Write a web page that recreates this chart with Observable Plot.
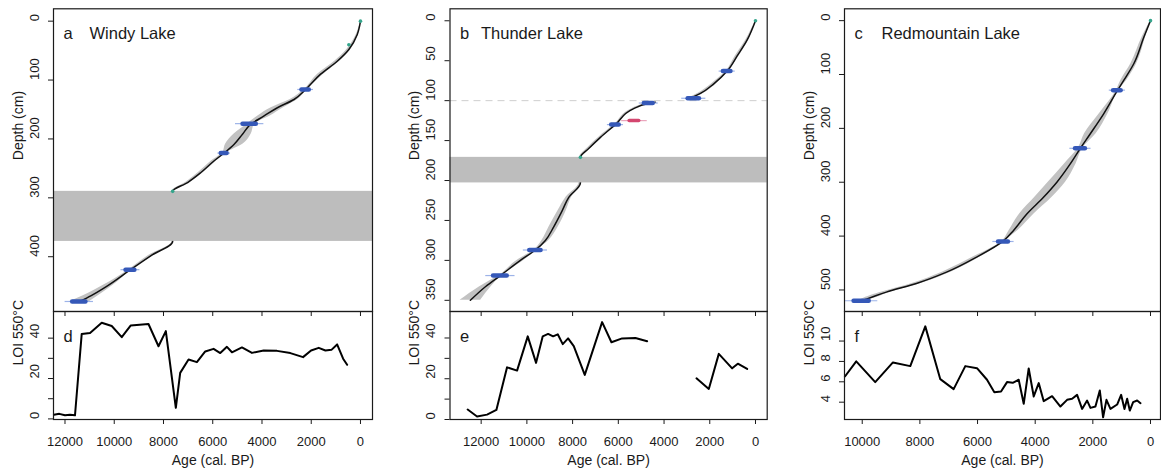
<!DOCTYPE html>
<html><head><meta charset="utf-8">
<script src="https://cdn.jsdelivr.net/npm/d3@7"></script>
<script src="https://cdn.jsdelivr.net/npm/@observablehq/plot@0.6"></script>
<style>
html,body{margin:0;padding:0;background:#fff;}
#chart{position:relative;width:1161px;height:474px;overflow:hidden;background:#fff;font-family:"Liberation Sans",Arial,sans-serif;}
#chart svg{position:absolute;background:transparent !important;overflow:visible;}
</style></head><body><div id="chart"></div>
<script>
// ---------------- data ----------------
const ageTicks = [12000, 10000, 8000, 6000, 4000, 2000, 0];
const redAgeTicks = [10000, 8000, 6000, 4000, 2000, 0];

// Windy Lake age-depth model
const windyDepth = [0, 23, 48, 68, 90, 116, 133, 147, 161, 175, 192, 209, 223, 237, 257, 274, 289, 374, 398, 422, 449, 466, 476];
const windyAge = [0, 134, 472, 945, 1620, 2228, 2700, 3375, 3915, 4455, 4792, 5130, 5508, 5940, 6480, 7020, 7628, 7628, 8505, 9342, 10260, 10935, 11400];
const windyHalfWidth = [0, 40, 80, 100, 120, 60, 150, 250, 250, 150, 350, 350, 80, 100, 100, 80, 30, 30, 100, 60, 200, 300, 400];
const windyDateDepth = [116, 174, 224, 422, 476];
const windyDateAge = [2228, 4500, 5535, 9342, 11420];
const windyDateSd = [200, 360, 160, 240, 360];
const windyMarkDepth = [0, 40, 289];
const windyMarkAge = [0, 472, 7628];
const windyEventTop = [289];
const windyEventBottom = [374];
const windyDepthTicks = [0, 100, 200, 300, 400];
// Windy Lake LOI
const windyLoiAge = [12450, 12230, 12000, 11797, 11594, 11322, 10983, 10509, 10102, 9695, 9329, 8610, 8203, 7905, 7499, 7322, 6983, 6644, 6305, 5966, 5695, 5424, 5220, 4814, 4407, 3932, 3390, 2848, 2332, 2007, 1695, 1424, 1180, 949, 705, 542];
const windyLoi = [2, 2.5, 1.8, 2.1, 1.8, 42, 42.6, 47.6, 46, 40.5, 46.3, 47, 36, 43.5, 5.5, 22.8, 29.4, 28.1, 33.4, 34.7, 32.6, 35.7, 33, 35.4, 32.7, 33.9, 33.7, 32.6, 30.6, 33.9, 35.2, 33.9, 34.2, 36.9, 29.8, 26.8];

// Thunder Lake age-depth model (two segments separated by a hiatus at 100 cm)
const thunderUpperDepth = [0, 24, 44, 63, 79, 91, 98];
const thunderUpperAge = [0, 363, 801, 1239, 1825, 2407, 2918];
const thunderUpperHalfWidth = [0, 60, 80, 50, 100, 120, 100];
const thunderLowerDepth = [102, 104, 110, 130, 146, 160, 171, 187, 203, 221, 238, 258, 275, 287, 300, 319, 333, 350];
const thunderLowerAge = [4376, 4739, 5325, 6126, 6783, 7295, 7660, 7660, 7660, 8168, 8459, 8826, 9190, 9627, 10284, 11159, 11815, 12472];
const thunderLowerHalfWidth = [40, 60, 80, 50, 80, 80, 30, 30, 60, 120, 180, 200, 150, 60, 150, 60, 250, 450];
const thunderDateDepth = [63, 97, 103, 130, 287, 319];
const thunderDateAge = [1239, 2699, 4669, 6126, 9627, 11159];
const thunderDateSd = [220, 330, 260, 220, 330, 400];
const thunderOutlierDepth = [125];
const thunderOutlierAge = [5295];
const thunderOutlierSd = [350];
const thunderMarkDepth = [0, 171];
const thunderMarkAge = [0, 7658];
const thunderEventTop = [171];
const thunderEventBottom = [203];
const thunderHiatus = [100];
const thunderDepthTicks = [0, 50, 100, 150, 200, 250, 300, 350];
// Thunder Lake LOI (gap between segments)
const thunderLoiAge1 = [12590, 12180, 11742, 11334, 10867, 10429, 9962, 9598, 9306, 9072, 8854, 8650, 8431, 8197, 7949, 7468, 6709, 6301, 5834, 5251, 4740];
const thunderLoi1 = [4.9, 1.5, 2.4, 4.7, 25.6, 24, 40.8, 27.8, 40.8, 42, 40.8, 41.8, 37, 39.8, 36, 21.9, 47.8, 37.9, 39.8, 40, 38.4];
const thunderLoiAge2 = [2582, 2042, 1605, 1021, 773, 364];
const thunderLoi2 = [20.2, 15, 32.2, 25.1, 27.4, 24.8];

// Redmountain Lake age-depth model
const redDepth = [0, 31, 80, 111, 130, 173, 210, 236, 266, 300, 328, 359, 390, 409, 439, 467, 488, 504, 517, 520];
const redAge = [0, 232, 580, 928, 1150, 1625, 2088, 2420, 2784, 3248, 3712, 4291, 4757, 5100, 6031, 7075, 8119, 9163, 9859, 10033];
const redHalfWidth = [0, 60, 100, 100, 40, 150, 200, 80, 200, 300, 300, 250, 150, 40, 120, 150, 150, 150, 150, 60];
const redDateDepth = [129, 237, 410, 520];
const redDateAge = [1150, 2430, 5100, 10020];
const redDateSd = [175, 230, 230, 350];
const redMarkDepth = [0];
const redMarkAge = [0];
const redDepthTicks = [0, 100, 200, 300, 400, 500];
// Redmountain Lake LOI
const redLoiAge = [10600, 10208, 9549, 8935, 8333, 7812, 7292, 6829, 6424, 6019, 5671, 5417, 5185, 4977, 4780, 4572, 4398, 4225, 4051, 3877, 3704, 3414, 3125, 2894, 2720, 2546, 2373, 2199, 2083, 1910, 1759, 1644, 1528, 1389, 1157, 1019, 903, 810, 718, 602, 463, 347];
const redLoi = [6.52, 8.0, 5.97, 7.9, 7.54, 11.44, 6.26, 5.28, 7.54, 7.34, 6.2, 4.98, 5.05, 5.97, 5.9, 6.2, 3.84, 7.31, 4.56, 5.87, 4.1, 4.59, 3.57, 4.23, 4.33, 4.72, 3.34, 4.16, 3.44, 3.57, 5.15, 2.52, 4.23, 3.34, 3.77, 4.72, 3.34, 4.33, 3.18, 4.0, 4.16, 3.9];

const loiTicks40 = [0, 10, 20, 30, 40];
const loiLabels40 = [0, 20, 40];
const loiTicksRed = [4, 6, 8, 10];

// ---------------- helpers ----------------
const FONT = '"Liberation Sans", Arial, sans-serif';
const INK = "#1a1a1a";
const chart = document.getElementById("chart");

function curveRows(depths, ages, hw, seg) {
  return depths.map((d, i) => ({depth: d, age: ages[i], lo: ages[i] - hw[i], hi: ages[i] + hw[i], seg}));
}
function dateRows(depths, ages, sds) {
  return depths.map((d, i) => ({depth: d, age: ages[i], sd: sds[i]}));
}
function pointRows(xs, ys, seg) {
  return xs.map((x, i) => ({x, y: ys[i], seg}));
}
function place(svg, left, top) {
  svg.style.left = left + "px";
  svg.style.top = top + "px";
  chart.appendChild(svg);
}
const baseStyle = {background: "transparent", fontFamily: FONT, color: INK, overflow: "visible"};

function topPanel(o) {
  const marks = [
    Plot.areaX(o.curve, {y: "depth", x1: "lo", x2: "hi", z: "seg", fill: "#c2c2c2", curve: "monotone-y"}),
    Plot.line(o.curve, {x: "age", y: "depth", z: "seg", stroke: "#111", strokeWidth: 1.5, curve: "monotone-y"}),
  ];
  if (o.hiatus) marks.push(Plot.ruleY(o.hiatus, {y: d => d, stroke: "#cfcfcf", strokeWidth: 1, strokeDasharray: "7,5"}));
  if (o.bands) marks.push(Plot.rect(o.bands, {y1: "top", y2: "bottom", fill: "#bdbdbd"}));
  marks.push(
    Plot.ruleY(o.dates, {y: "depth", x1: d => d.age - 1.6 * d.sd, x2: d => d.age + 1.6 * d.sd, stroke: "#9db3e8", strokeWidth: 1.2}),
    Plot.ruleY(o.dates, {y: "depth", x1: d => d.age - 0.75 * d.sd, x2: d => d.age + 0.75 * d.sd, stroke: "#3558b8", strokeWidth: 4.5, strokeLinecap: "round"})
  );
  if (o.outliers) marks.push(
    Plot.ruleY(o.outliers, {y: "depth", x1: d => d.age - 1.6 * d.sd, x2: d => d.age + 1.6 * d.sd, stroke: "#eaa6bd", strokeWidth: 1.2}),
    Plot.ruleY(o.outliers, {y: "depth", x1: d => d.age - 0.6 * d.sd, x2: d => d.age + 0.6 * d.sd, stroke: "#d4466f", strokeWidth: 3.5, strokeLinecap: "round"})
  );
  marks.push(
    Plot.dot(o.marks, {x: "age", y: "depth", r: 1.8, fill: "#35a58c"}),
    Plot.frame({stroke: INK, strokeWidth: 1.2}),
    Plot.axisX({ticks: o.xTicks, anchor: "bottom", tickSize: 5, fill: "none", stroke: INK, label: null}),
    Plot.axisY({ticks: o.yTicks, anchor: "left", tickSize: 5, fill: "none", stroke: INK, label: null}),
    Plot.text(o.yTicks, {y: d => d, text: d => String(d), frameAnchor: "left", dx: -19, rotate: -90, fontSize: 13, fill: INK}),
    Plot.text(["Depth (cm)"], {frameAnchor: "left", dx: -35, rotate: -90, fontSize: 14, fill: INK}),
    Plot.text([o.letter], {frameAnchor: "top-left", dx: 10, dy: 18.5, textAnchor: "start", fontSize: 16.5, fill: INK}),
    Plot.text([o.name], {frameAnchor: "top-left", dx: o.nameDx, dy: 18.5, textAnchor: "start", fontSize: 16.5, fill: INK})
  );
  const svg = Plot.plot({
    width: o.width, height: 318,
    marginLeft: o.ml, marginRight: o.mr, marginTop: 8.3, marginBottom: 7,
    x: {domain: o.xDomain, axis: null},
    y: {domain: o.yDomain, reverse: true, axis: null},
    style: baseStyle,
    marks
  });
  place(svg, o.left, 0);
}

function loiPanel(o) {
  const svg = Plot.plot({
    width: o.width, height: 169,
    marginLeft: o.ml, marginRight: o.mr, marginTop: 6, marginBottom: 55,
    x: {domain: o.xDomain, axis: null},
    y: {domain: o.yDomain, axis: null},
    style: baseStyle,
    marks: [
      Plot.line(o.data, {x: "x", y: "y", z: "seg", stroke: "#000", strokeWidth: 2, strokeLinejoin: "round"}),
      Plot.frame({stroke: INK, strokeWidth: 1.2}),
      Plot.axisX({ticks: o.xTicks, tickFormat: d => String(d), anchor: "bottom", tickSize: 5, tickPadding: 12, fontSize: 13, fill: INK, stroke: INK, label: null}),
      Plot.axisY({ticks: o.yTicks, anchor: "left", tickSize: 5, fill: "none", stroke: INK, label: null}),
      Plot.text(o.yLabels, {y: d => d, text: d => String(d), frameAnchor: "left", dx: -19, rotate: -90, fontSize: 13, fill: INK}),
      Plot.text(["LOI 550°C"], {frameAnchor: "left", dx: -35, rotate: -90, fontSize: 14, fill: INK}),
      Plot.text(["Age (cal. BP)"], {frameAnchor: "bottom", dy: 45, fontSize: 14, fill: INK}),
      Plot.text([o.letter], {frameAnchor: "top-left", dx: 10, dy: 19, textAnchor: "start", fontSize: 16.5, fill: INK})
    ]
  });
  place(svg, o.left, 305);
}

// ---------------- panels ----------------
const windyX = [12467, -488];
const thunderX = [13363, -512];
const redX = [10615, -347];

topPanel({
  left: 0, width: 390, ml: 53, mr: 18, xDomain: windyX, yDomain: [-21, 493],
  xTicks: ageTicks, yTicks: windyDepthTicks, letter: "a", name: "Windy Lake", nameDx: 36,
  curve: curveRows(windyDepth, windyAge, windyHalfWidth, "w"),
  dates: dateRows(windyDateDepth, windyDateAge, windyDateSd),
  marks: dateRows(windyMarkDepth, windyMarkAge, windyMarkDepth.map(() => 0)),
  bands: windyEventTop.map((t, i) => ({top: t, bottom: windyEventBottom[i]}))
});
topPanel({
  left: 390, width: 390, ml: 59.5, mr: 13.3, xDomain: thunderX, yDomain: [-15, 364],
  xTicks: ageTicks, yTicks: thunderDepthTicks, letter: "b", name: "Thunder Lake", nameDx: 31,
  curve: curveRows(thunderUpperDepth, thunderUpperAge, thunderUpperHalfWidth, "upper")
    .concat(curveRows(thunderLowerDepth, thunderLowerAge, thunderLowerHalfWidth, "lower")),
  dates: dateRows(thunderDateDepth, thunderDateAge, thunderDateSd),
  outliers: dateRows(thunderOutlierDepth, thunderOutlierAge, thunderOutlierSd),
  marks: dateRows(thunderMarkDepth, thunderMarkAge, thunderMarkDepth.map(() => 0)),
  bands: thunderEventTop.map((t, i) => ({top: t, bottom: thunderEventBottom[i]})),
  hiatus: thunderHiatus
});
topPanel({
  left: 780, width: 381, ml: 64, mr: 1, xDomain: redX, yDomain: [-22, 540],
  xTicks: redAgeTicks, yTicks: redDepthTicks, letter: "c", name: "Redmountain Lake", nameDx: 37,
  curve: curveRows(redDepth, redAge, redHalfWidth, "r"),
  dates: dateRows(redDateDepth, redDateAge, redDateSd),
  marks: dateRows(redMarkDepth, redMarkAge, redMarkDepth.map(() => 0))
});

loiPanel({
  left: 0, width: 390, ml: 53, mr: 18, xDomain: windyX, yDomain: [-0.3, 53.2],
  xTicks: ageTicks, yTicks: loiTicks40, yLabels: loiLabels40, letter: "d",
  data: pointRows(windyLoiAge, windyLoi, "d")
});
loiPanel({
  left: 390, width: 390, ml: 59.5, mr: 13.3, xDomain: thunderX, yDomain: [0, 53],
  xTicks: ageTicks, yTicks: loiTicks40, yLabels: loiLabels40, letter: "e",
  data: pointRows(thunderLoiAge1, thunderLoi1, "e1").concat(pointRows(thunderLoiAge2, thunderLoi2, "e2"))
});
loiPanel({
  left: 780, width: 381, ml: 64, mr: 1, xDomain: redX, yDomain: [2.3, 12.9],
  xTicks: redAgeTicks, yTicks: loiTicksRed, yLabels: loiTicksRed, letter: "f",
  data: pointRows(redLoiAge, redLoi, "f")
});
</script></body></html>
